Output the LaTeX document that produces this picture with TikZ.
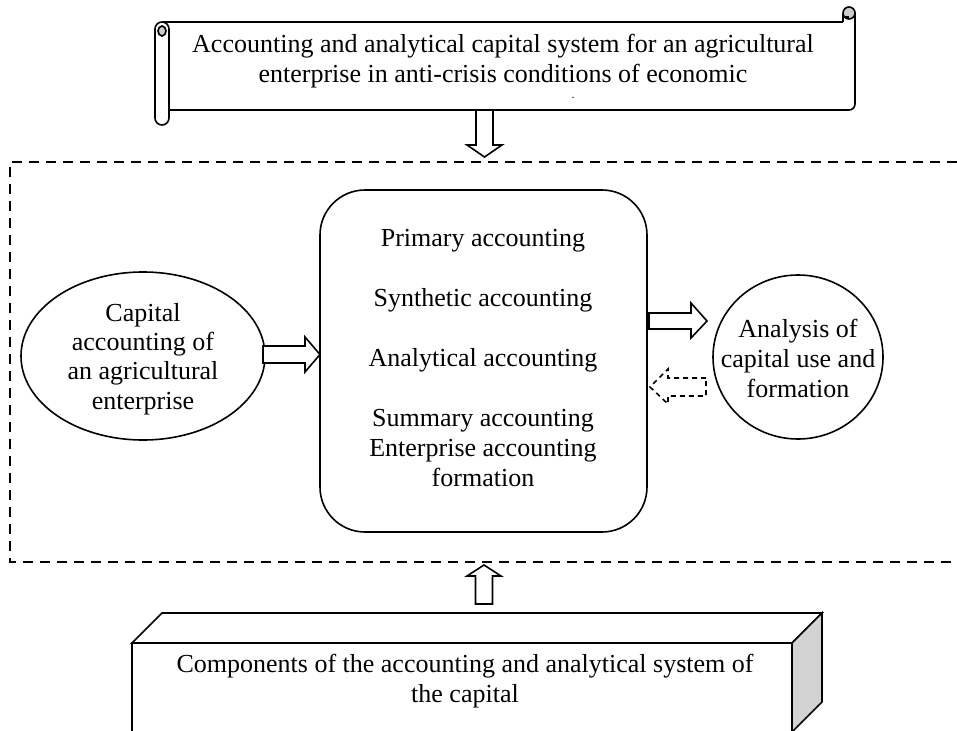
\documentclass[tikz,border=0pt]{standalone}
\usepackage{fontspec}
\setmainfont{Liberation Serif}
\usetikzlibrary{shapes.geometric}
\begin{document}
\begin{tikzpicture}[x=1pt,y=-1pt,
  ln/.style={line width=1.6pt, line join=miter},
  txt/.style={font=\fontsize{26}{29.5}\selectfont, align=center, inner sep=0pt},
  blockarrow/.style={ln, fill=white},
  dashframe/.style={line width=2pt, dash pattern=on 10pt off 7pt},
  rollfill/.style={ln, fill=gray!40},
]
\useasboundingbox (0,0) rectangle (957,730);
\clip (0,0) rectangle (957,730);

% ---- scroll (title) ----
\draw[ln] (162,22) -- (843,22);
\draw[ln, rounded corners=6pt] (169,110) -- (855,110) -- (855,12);
\draw[ln] (843,22) -- (843,14);
\draw[rollfill] (849,13) circle (6pt);
\draw[ln] (843,17) -- (849,17);
\draw[ln, fill=white, rounded corners=7pt] (155,22) rectangle (169,125);
\draw[rollfill] (162,31) ellipse (4pt and 5pt);
\node[txt] (title) at (503,61) {Accounting and analytical capital system for an agricultural\\enterprise in anti-crisis conditions of economic};
\node[font=\fontsize{12}{12}\selectfont, inner sep=0pt] (dot) at (573,98) {.};

% ---- arrow down ----
\draw[blockarrow] (476,110) -- (476,145) -- (467,145) -- (484.5,157) -- (502,145) -- (493,145) -- (493,110) -- cycle;

% ---- dashed frame ----
\draw[dashframe] (957,162) -- (10,162) -- (10,562) -- (957,562);

% ---- left ellipse ----
\node[draw, ln, ellipse, minimum width=244pt, minimum height=168pt, inner sep=0pt] (capacc) at (143,356) {};
\node[txt, font=\fontsize{26}{29.3}\selectfont] (capacctxt) at (143,359) {Capital\\accounting of\\an agricultural\\enterprise};

% ---- centre box ----
\node[draw, ln, rounded corners=45pt, minimum width=327pt, minimum height=342pt] (acc) at (483.5,361) {};
\node[txt, font=\fontsize{26}{30}\selectfont] (acctxt) at (483,358) {Primary accounting\\[30pt]Synthetic accounting\\[30pt]Analytical accounting\\[30pt]Summary accounting\\Enterprise accounting\\formation};

% ---- right ellipse ----
\node[draw, ln, ellipse, minimum width=170pt, minimum height=164pt, inner sep=0pt] (anal) at (798,357) {};
\node[txt, font=\fontsize{26}{30}\selectfont] (analtxt) at (798,358) {Analysis of\\capital use and\\formation};

% ---- block arrows between ----
\draw[blockarrow] (263,346) -- (305,346) -- (305,337) -- (320,354.5) -- (305,372) -- (305,363) -- (263,363) -- cycle;
\draw[blockarrow] (649,313) -- (691,313) -- (691,303) -- (707,321) -- (691,338) -- (691,329) -- (649,329) -- cycle;
\draw[blockarrow, dash pattern=on 5pt off 4pt] (706,378) -- (668,378) -- (668,369) -- (650,387) -- (668,404) -- (668,396) -- (706,396) -- cycle;

% ---- arrow up ----
\draw[blockarrow] (475.5,604) -- (475.5,576) -- (467,576) -- (484,565) -- (501,576) -- (492.5,576) -- (492.5,604) -- cycle;

% ---- bottom block ----
\draw[ln, fill=white] (132,643) -- (162,613) -- (822,613) -- (792,643) -- cycle;
\draw[ln, fill=gray!35] (792,643) -- (822,613) -- (822,702) -- (792,732) -- cycle;
\draw[ln] (132,740) -- (132,643) -- (792,643) -- (792,740);
\node[txt, font=\fontsize{26}{30}\selectfont] (comp) at (465,681) {Components of the accounting and analytical system of\\the capital};
\end{tikzpicture}
\end{document}
